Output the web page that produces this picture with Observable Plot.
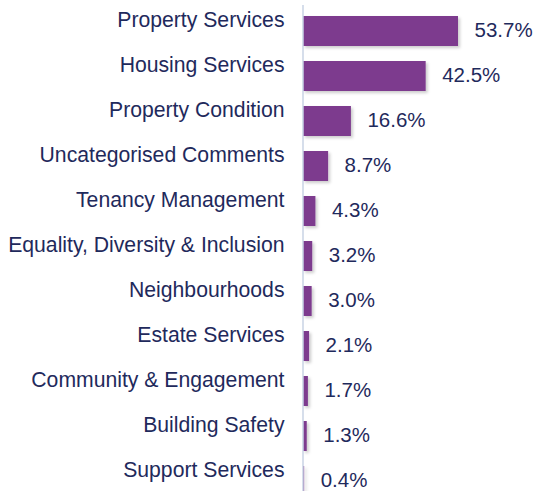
<!DOCTYPE html>
<html>
<head>
<meta charset="utf-8">
<script src="https://cdn.jsdelivr.net/npm/d3@7"></script>
<script src="https://cdn.jsdelivr.net/npm/@observablehq/plot@0.6"></script>
<style>
  html, body { margin: 0; padding: 0; background: #fff; }
  #chart svg { display: block; }
</style>
</head>
<body>
<div id="chart"></div>
<script>
const categories = [
  "Property Services",
  "Housing Services",
  "Property Condition",
  "Uncategorised Comments",
  "Tenancy Management",
  "Equality, Diversity & Inclusion",
  "Neighbourhoods",
  "Estate Services",
  "Community & Engagement",
  "Building Safety",
  "Support Services"
];
const values = [53.7, 42.5, 16.6, 8.7, 4.3, 3.2, 3.0, 2.1, 1.7, 1.3, 0.4];

const data = categories.map((c, i) => ({category: c, value: values[i]}));

const textColor = "#1f2a5c";
const barColor = "#7d3a8e";
const font = "Liberation Sans, Arial, sans-serif";

const chart = Plot.plot({
  width: 537,
  height: 491,
  marginLeft: 303,
  marginRight: 79,
  marginTop: 5,
  marginBottom: 0,
  style: {fontFamily: font, fontSize: "20.5px", color: textColor, background: "#fff"},
  x: {domain: [0, 53.7], axis: null},
  y: {domain: categories, range: [6, 505.5], paddingInner: 0.34, paddingOuter: 0.17, label: null},
  marks: [
    Plot.barX(data, {y: "category", x: "value", fill: barColor, className: "bars"}),
    Plot.ruleX([0], {stroke: "#c8d3e5", strokeWidth: 1.5, dx: -0.5}),
    Plot.axisY({tickSize: 0, tickPadding: 19, dy: -11.5, fontSize: 21.2, fill: textColor, label: null}),
    Plot.text(data, {
      y: "category", x: "value",
      text: d => d.value.toFixed(1) + "%",
      textAnchor: "start", dx: 16, dy: -1,
      fill: textColor, fontSize: 20.5
    })
  ]
});

// soft drop shadow on bars
const ns = "http://www.w3.org/2000/svg";
const defs = document.createElementNS(ns, "defs");
defs.innerHTML = '<filter id="shadow" x="-10%" y="-20%" width="130%" height="160%"><feDropShadow dx="2" dy="2" stdDeviation="1.5" flood-color="#000" flood-opacity="0.2"/></filter>';
chart.insertBefore(defs, chart.firstChild);
const g = chart.querySelector("g.bars");
if (g) g.setAttribute("filter", "url(#shadow)");

document.getElementById("chart").appendChild(chart);
</script>
</body>
</html>
